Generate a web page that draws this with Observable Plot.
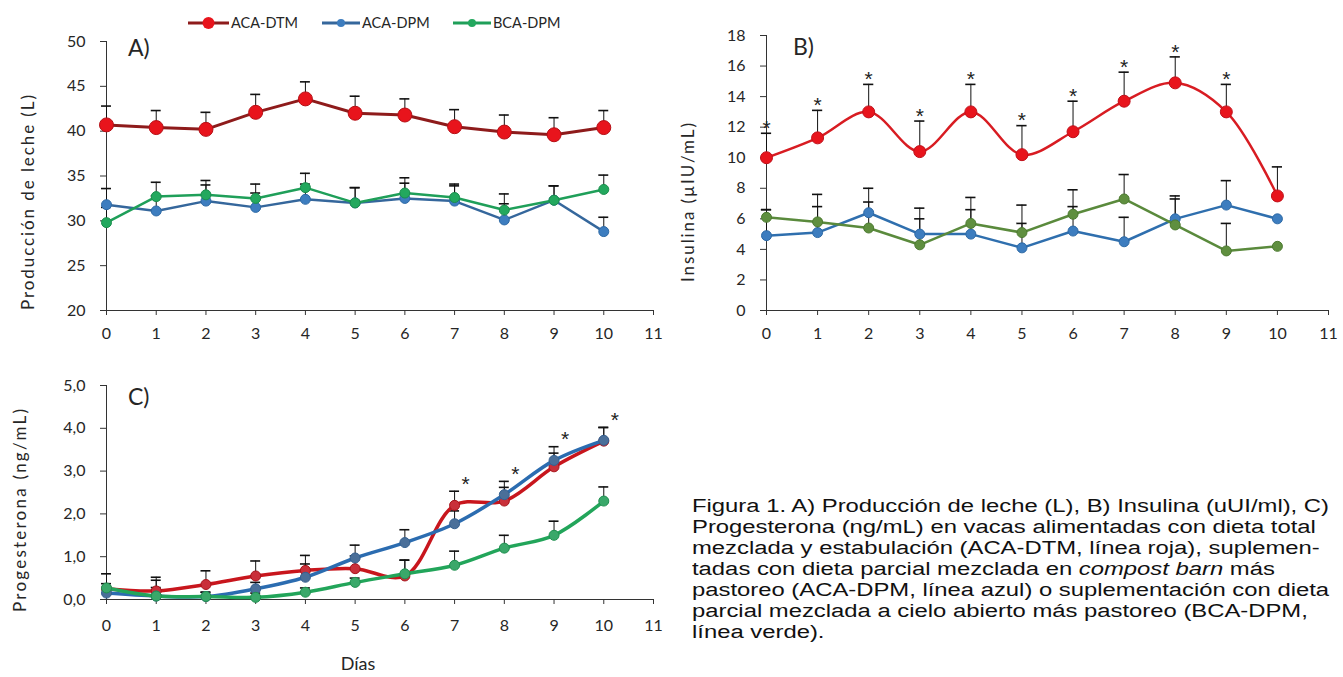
<!DOCTYPE html>
<html>
<head>
<meta charset="utf-8">
<script src="https://cdn.jsdelivr.net/npm/d3@7"></script>
<script src="https://cdn.jsdelivr.net/npm/@observablehq/plot@0.6"></script>
<style>
  html, body { margin: 0; padding: 0; background: #fff; }
  #root { position: relative; width: 1343px; height: 677px; overflow: hidden; font-family: Lato, "Open Sans", sans-serif; color: #262626; }
  .panel { position: absolute; }
  .ylab { position: absolute; white-space: nowrap; font-size: 17px; color: #262626; transform-origin: 0 0; }
  .plabel { position: absolute; font-size: 23px; color: #262626; line-height: 1; }
  #legend { position: absolute; left: 188px; top: 14px; height: 18px; font-size: 14.5px; color: #262626; }
  .litem { position: absolute; top: 0; height: 18px; white-space: nowrap; }
  .litem svg { position: absolute; left: 0; top: 0; }
  .litem span { position: absolute; top: 0px; line-height: 18px; }
  #caption { position: absolute; left: 692px; top: 496px; font-family: "Liberation Sans", Arial, sans-serif; font-size: 18px; line-height: 21px; color: #111; transform-origin: 0 0; }
  #caption div { white-space: nowrap; }
  #caption .l { display: inline-block; }
</style>
</head>
<body>
<div id="root"></div>
<script>
// ---------------- data ----------------
const days = [0, 1, 2, 3, 4, 5, 6, 7, 8, 9, 10];
const xTicks = [0, 1, 2, 3, 4, 5, 6, 7, 8, 9, 10, 11];
const seriesNames = ["ACA-DTM", "ACA-DPM", "BCA-DPM"];

// A) Producción de leche (L)
const milkTicks = [20, 25, 30, 35, 40, 45, 50];
const milkDTM   = [40.7, 40.4, 40.2, 42.1, 43.6, 42.0, 41.8, 40.5, 39.9, 39.6, 40.4];
const milkDTMse = [2.1, 1.9, 1.9, 2.0, 1.9, 1.9, 1.8, 1.9, 1.9, 1.9, 1.9];
const milkDPM   = [31.8, 31.1, 32.2, 31.5, 32.4, 32.0, 32.5, 32.2, 30.1, 32.3, 28.8];
const milkDPMse = [1.8, 1.7, 1.8, 1.6, 1.7, 1.7, 1.7, 1.7, 1.8, 1.6, 1.6];
const milkBCA   = [29.8, 32.7, 32.9, 32.5, 33.7, 32.0, 33.1, 32.6, 31.2, 32.3, 33.5];
const milkBCAse = [1.7, 1.6, 1.6, 1.6, 1.6, 1.7, 1.7, 1.5, 1.8, 1.6, 1.6];

// B) Insulina (µIU/mL)
const insTicks = [0, 2, 4, 6, 8, 10, 12, 14, 16, 18];
const insDTM   = [10.0, 11.3, 13.0, 10.4, 13.0, 10.2, 11.7, 13.7, 14.9, 13.0, 7.5];
const insDTMse = [1.6, 1.8, 1.8, 2.0, 1.8, 1.9, 2.0, 1.9, 1.7, 1.8, 1.9];
const insDPM   = [4.9, 5.1, 6.4, 5.0, 5.0, 4.1, 5.2, 4.5, 6.0, 6.9, 6.0];
const insDPMse = [1.7, 1.7, 1.6, 1.7, 1.6, 1.6, 1.6, 1.6, 1.5, 1.6, 0];
const insBCA   = [6.1, 5.8, 5.4, 4.3, 5.7, 5.1, 6.3, 7.3, 5.6, 3.9, 4.2];
const insBCAse = [0.5, 1.8, 1.7, 1.7, 1.7, 1.8, 1.6, 1.6, 1.7, 1.8, 0];
const insStarDays = [0, 1, 2, 3, 4, 5, 6, 7, 8, 9];

// C) Progesterona (ng/mL)
const progTicks = [0, 1, 2, 3, 4, 5];
const progDTM   = [0.25, 0.20, 0.35, 0.55, 0.68, 0.72, 0.55, 2.20, 2.30, 3.10, 3.70];
const progDTMse = [0.35, 0.32, 0.32, 0.35, 0.35, 0.30, 0.37, 0.33, 0.32, 0.32, 0.32];
const progDPM   = [0.15, 0.08, 0.07, 0.25, 0.52, 0.97, 1.33, 1.77, 2.45, 3.25, 3.72];
const progDPMse = [0.10, 0.20, 0.10, 0.15, 0.31, 0.30, 0.30, 0.30, 0.31, 0.32, 0.30];
const progBCA   = [0.27, 0.08, 0.07, 0.05, 0.17, 0.40, 0.60, 0.80, 1.20, 1.50, 2.30];
const progBCAse = [0.10, 0.37, 0.10, 0.10, 0.10, 0.10, 0.32, 0.33, 0.30, 0.33, 0.33];
const progStarDays = [7, 8, 9, 10];

// ---------------- helpers ----------------
const root = document.getElementById("root");

function rows(name, vals, se) {
  return days.map((d, i) => ({ day: d, name, v: vals[i], top: vals[i] + se[i] }));
}

function makePanel(cfg) {
  const marks = [];
  const all = cfg.series.map(s => rows(s.name, s.vals, s.se));
  all.forEach(r => {
    const withErr = r.filter(d => d.top > d.v);
    marks.push(Plot.ruleX(withErr, { x: "day", y1: "v", y2: "top", stroke: "#111", strokeWidth: 1 }));
    marks.push(Plot.ruleY(withErr, { x1: d => d.day - 0.1, x2: d => d.day + 0.1, y: "top", stroke: "#111", strokeWidth: 1.6 }));
  });
  cfg.series.forEach((s, k) => {
    const r = all[k];
    marks.push(Plot.line(r, { x: "day", y: "v", stroke: s.line, strokeWidth: s.sw, curve: s.curve }));
    marks.push(Plot.dot(r, { x: "day", y: "v", r: s.r, fill: s.fill, stroke: s.dotStroke, strokeWidth: 1 }));
  });
  if (cfg.starDays) {
    const starRows = cfg.starDays.map(d => ({
      day: d,
      top: d3.max(all.filter((_, k) => cfg.starFrom.includes(k)), r => r[d].top)
    }));
    marks.push(Plot.text(starRows, { x: "day", y: "top", text: () => "*", dx: cfg.starDx, dy: cfg.starDy, fontSize: 21, fill: "#222", fontFamily: "'Liberation Sans', sans-serif" }));
  }
  const svg = Plot.plot({
    width: cfg.width,
    height: cfg.height,
    marginLeft: cfg.ml, marginRight: cfg.mr, marginTop: cfg.mt, marginBottom: cfg.mb,
    style: { fontFamily: "Lato, 'Open Sans', sans-serif", fontSize: "16px", color: "#333", background: "transparent", overflow: "visible" },
    x: { domain: [0, 11], ticks: xTicks, tickFormat: d => String(d), line: true, tickSize: 5, tickPadding: cfg.xPad, label: null },
    y: { domain: cfg.yDomain, ticks: cfg.yTicks, tickFormat: cfg.yFormat, line: true, tickSize: 6, tickPadding: 15, label: null },
    marks
  });
  svg.querySelectorAll("[aria-label='x-axis'] text, [aria-label='y-axis'] text, g[aria-label='x-axis tick label'] text, g[aria-label='y-axis tick label'] text").forEach(t => t.setAttribute("fill", "#262626"));
  const div = document.createElement("div");
  div.className = "panel";
  div.style.left = cfg.left + "px";
  div.style.top = cfg.top + "px";
  div.appendChild(svg);
  root.appendChild(div);
}

function addRotatedLabel(text, cx, cy, length) {
  const el = document.createElement("div");
  el.className = "ylab";
  el.textContent = text;
  root.appendChild(el);
  const w0 = el.getBoundingClientRect().width;
  const n = text.length;
  const ls = (length - w0) / (n - 1);
  el.style.letterSpacing = ls + "px";
  const w = el.getBoundingClientRect().width - ls;
  const h = el.getBoundingClientRect().height;
  el.style.left = (cx - h / 2) + "px";
  el.style.top = (cy + w / 2) + "px";
  el.style.transform = "rotate(-90deg)";
}

function addText(text, x, y, cls) {
  const el = document.createElement("div");
  el.className = cls;
  el.textContent = text;
  el.style.left = x + "px";
  el.style.top = y + "px";
  root.appendChild(el);
  return el;
}

// ---------------- panels ----------------
const red = { fill: "#e8141c", dotStroke: "#b50f15" };
const blue = { fill: "#3d7dbf", dotStroke: "#2e6aa6" };
const green = { fill: "#23a85e", dotStroke: "#1a8e4c" };

makePanel({
  left: 0, top: 0, width: 670, height: 345, ml: 106, mr: 17, mt: 41, mb: 35, xPad: 12,
  yDomain: [20, 50], yTicks: milkTicks, yFormat: d => String(d),
  series: [
    { name: seriesNames[0], vals: milkDTM, se: milkDTMse, line: "#8e1b1b", sw: 3, curve: "linear", r: 7, ...red },
    { name: seriesNames[1], vals: milkDPM, se: milkDPMse, line: "#35679c", sw: 2.5, curve: "linear", r: 5, ...blue },
    { name: seriesNames[2], vals: milkBCA, se: milkBCAse, line: "#1f9f59", sw: 2.5, curve: "linear", r: 5, ...green }
  ]
});

makePanel({
  left: 670, top: 0, width: 673, height: 345, ml: 96, mr: 15, mt: 35, mb: 35, xPad: 12,
  yDomain: [0, 18], yTicks: insTicks, yFormat: d => String(d),
  starDays: insStarDays, starFrom: [0], starDx: 0, starDy: -5,
  series: [
    { name: seriesNames[0], vals: insDTM, se: insDTMse, line: "#d81c22", sw: 2.5, curve: "catmull-rom", r: 6, fill: "#e8141c", dotStroke: "#c0101a" },
    { name: seriesNames[1], vals: insDPM, se: insDPMse, line: "#2f6fae", sw: 2.5, curve: "linear", r: 5, ...blue },
    { name: seriesNames[2], vals: insBCA, se: insBCAse, line: "#5a8a3c", sw: 2.5, curve: "linear", r: 5, fill: "#5f8f3f", dotStroke: "#4c7a30" }
  ]
});

makePanel({
  left: 0, top: 370, width: 670, height: 307, ml: 106, mr: 17, mt: 15, mb: 78, xPad: 15,
  yDomain: [0, 5], yTicks: progTicks, yFormat: d => d.toFixed(1).replace(".", ","),
  starDays: progStarDays, starFrom: [0, 1, 2], starDx: 11, starDy: -7,
  series: [
    { name: seriesNames[0], vals: progDTM, se: progDTMse, line: "#c8161d", sw: 3.5, curve: "catmull-rom", r: 5, fill: "#c9303a", dotStroke: "#a8141b" },
    { name: seriesNames[1], vals: progDPM, se: progDPMse, line: "#2b6cb0", sw: 3.5, curve: "catmull-rom", r: 5, fill: "#4a6f99", dotStroke: "#35608f" },
    { name: seriesNames[2], vals: progBCA, se: progBCAse, line: "#22a55a", sw: 3.5, curve: "catmull-rom", r: 5, fill: "#3aa86a", dotStroke: "#1f9050" }
  ]
});

// panel letters
addText("A)", 128, 36, "plabel");
addText("B)", 793, 35, "plabel");
addText("C)", 128, 385, "plabel");

// axis titles
addRotatedLabel("Producción de leche (L)", 27, 202, 215);
addRotatedLabel("Insulina (µIU/mL)", 687, 202, 159);
addRotatedLabel("Progesterona (ng/mL)", 19, 511, 203);
const dias = addText("Días", 0, 0, "plabel");
dias.style.fontSize = "18px";
dias.style.left = (358 - dias.getBoundingClientRect().width / 2) + "px";
dias.style.top = "654px";

// legend
const legend = document.createElement("div");
legend.id = "legend";
root.appendChild(legend);
const legendItems = [
  { name: seriesNames[0], x: 0, line: "#8e1b1b", fill: "#e8141c", r: 6, textX: 43 },
  { name: seriesNames[1], x: 134, line: "#35679c", fill: "#3d7dbf", r: 4, textX: 40 },
  { name: seriesNames[2], x: 265, line: "#1f9f59", fill: "#23a85e", r: 4, textX: 40 }
];
legendItems.forEach(it => {
  const item = document.createElement("div");
  item.className = "litem";
  item.style.left = it.x + "px";
  const lineLen = it.textX - 2;
  item.innerHTML =
    `<svg width="${lineLen}" height="18"><line x1="0" y1="9" x2="${lineLen}" y2="9" stroke="${it.line}" stroke-width="3"/>` +
    `<circle cx="${lineLen / 2}" cy="9" r="${it.r}" fill="${it.fill}"/></svg>` +
    `<span style="left:${it.textX}px">${it.name}</span>`;
  legend.appendChild(item);
});

// caption
const captionLines = [
  "Figura 1. A) Producción de leche (L), B) Insulina (uUI/ml), C)",
  "Progesterona (ng/mL) en vacas alimentadas con dieta total",
  "mezclada y estabulación (ACA-DTM, línea roja), suplemen-",
  "tadas con dieta parcial mezclada en <i>compost barn</i> más",
  "pastoreo (ACA-DPM, línea azul) o suplementación con dieta",
  "parcial mezclada a cielo abierto más pastoreo (BCA-DPM,",
  "línea verde)."
];
const cap = document.createElement("div");
cap.id = "caption";
cap.innerHTML = captionLines.map(l => `<div><span class="l">${l}</span></div>`).join("");
root.appendChild(cap);
const firstW = cap.querySelector(".l").getBoundingClientRect().width;
cap.style.transform = `scaleX(${637 / firstW})`;
</script>
</body>
</html>
